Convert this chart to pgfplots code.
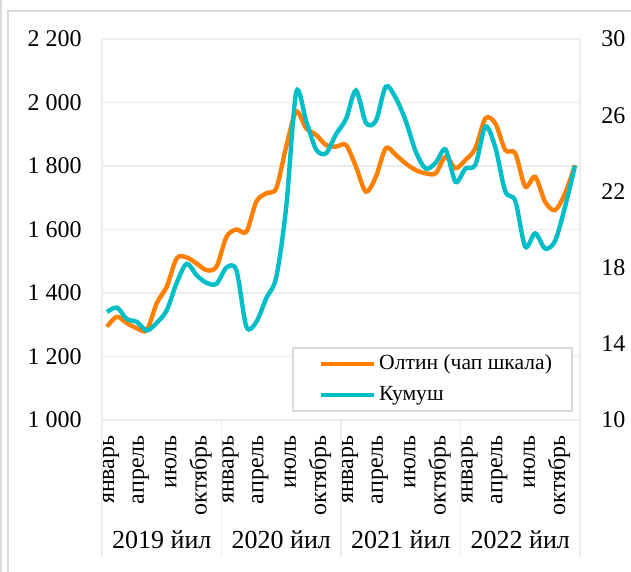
\documentclass[border=0pt]{standalone}
\usepackage{pgfplots}
\pgfplotsset{compat=1.18}
\usepackage{fontspec}
\setmainfont{Liberation Serif}
\definecolor{gold}{RGB}{255,128,0}
\definecolor{silv}{RGB}{0,190,200}
\definecolor{gridc}{RGB}{236,236,236}
\definecolor{framec}{RGB}{217,217,217}
\pgfplotstableread{
m gold silver
0 1294 15.67
1 1325 15.9
2 1305 15.3
3 1289 15.15
4 1283 14.7
5 1368 15.1
6 1420 15.76
7 1509 17.2
8 1512 18.2
9 1493 17.6
10 1472 17.2
11 1483 17.15
12 1577 18.0
13 1600 17.85
14 1593 14.9
15 1688 15.15
16 1714 16.4
17 1730 17.5
18 1861 21.2
19 1971 27.2
20 1919 25.7
21 1898 24.2
22 1866 24.0
23 1861 25.0
24 1866 25.8
25 1798 27.3
26 1719 25.6
27 1766 25.7
28 1856 27.5
29 1835 26.9
30 1808 25.7
31 1787 24.1
32 1777 23.2
33 1777 23.5
34 1829 24.2
35 1793 22.5
36 1819 23.2
37 1856 23.4
38 1950 25.4
39 1934 24.3
40 1850 22.0
41 1840 21.5
42 1735 19.1
43 1766 19.8
44 1687 19.0
45 1661 19.4
46 1714 21.2
47 1803 23.35
}\datatable
\begin{document}
\begin{tikzpicture}[font=\fontsize{12}{14}\selectfont]
\pgfplotsset{
  base/.style={
    at={(0,0)}, anchor=south west, scale only axis,
    width=239pt, height=190.5pt,
    xmin=-0.5, xmax=47.5,
    /pgf/number format/assume math mode=true,
    tick style={draw=none},
    every tick label/.append style={font=\fontsize{12}{14}\selectfont, inner sep=0pt},
  }
}
\begin{axis}[base,
  ymin=1000, ymax=2200,
  ytick={1000,1200,...,2200},
  yticklabels={1 000,1 200,1 400,1 600,1 800,2 000,2 200},
  ymajorgrids, major grid style={gridc, line width=0.8pt},
  axis line style={gridc, line width=0.8pt},
  yticklabel shift=10pt,
  xtick={0,3,...,45},
  xticklabels={январь,апрель,июль,октябрь,январь,апрель,июль,октябрь,январь,апрель,июль,октябрь,январь,апрель,июль,октябрь},
  xticklabel style={xshift=2pt, rotate=90, anchor=east},
  xticklabel shift=7.5pt,
]
\addplot[gold, line width=2.2pt, smooth, tension=0.5] table[x=m, y=gold] {\datatable};
\end{axis}
\begin{axis}[base,
  ymin=10, ymax=30,
  ytick={10,14,...,30},
  hide x axis,
  axis y line*=right,
  axis line style={gridc, line width=0.8pt},
  yticklabel style={anchor=west},
  yticklabel shift=10.5pt,
  legend style={at={(0.9854,0.021)}, anchor=south east, draw=framec, line width=1pt,
    font=\fontsize{10.8}{12}\selectfont, inner xsep=10pt, inner ysep=3pt,
    nodes={inner sep=0pt, text height=7.5pt, text depth=2.5pt},
    row sep=5.5pt, column sep=1.5pt},
  legend cell align=left,
  legend image code/.code={\path (0pt,0pt); \draw[#1] (3pt,0pt) -- (29.5pt,0pt);},
]
\addlegendimage{gold, line width=2.2pt}
\addlegendentry{Олтин (чап шкала)}
\addplot[silv, line width=2.2pt, smooth, tension=0.5] table[x=m, y=silver] {\datatable};
\addlegendentry{Кумуш}
\end{axis}
% separators and year labels
\foreach \x in {0,59.75,119.5,179.25,239}{
  \draw[gridc, line width=0.8pt] (\x pt,0) -- (\x pt,-68.5pt);
}
\foreach \x/\t in {29.875/2019,89.625/2020,149.375/2021,209.125/2022}{
  \node[font=\fontsize{13}{15}\selectfont] at (\x pt,-60pt) {\t\ йил};
}
% outer frame
\draw[framec, line width=0.8pt] (-47pt,-90pt) rectangle (290pt,204.5pt);
\draw[framec, line width=0.8pt] (-50.6pt,-90pt) -- (-50.6pt,220pt);
\pgfresetboundingbox
\useasboundingbox (-51pt,-76pt) rectangle (264.5pt,210pt);
\end{tikzpicture}
\end{document}
